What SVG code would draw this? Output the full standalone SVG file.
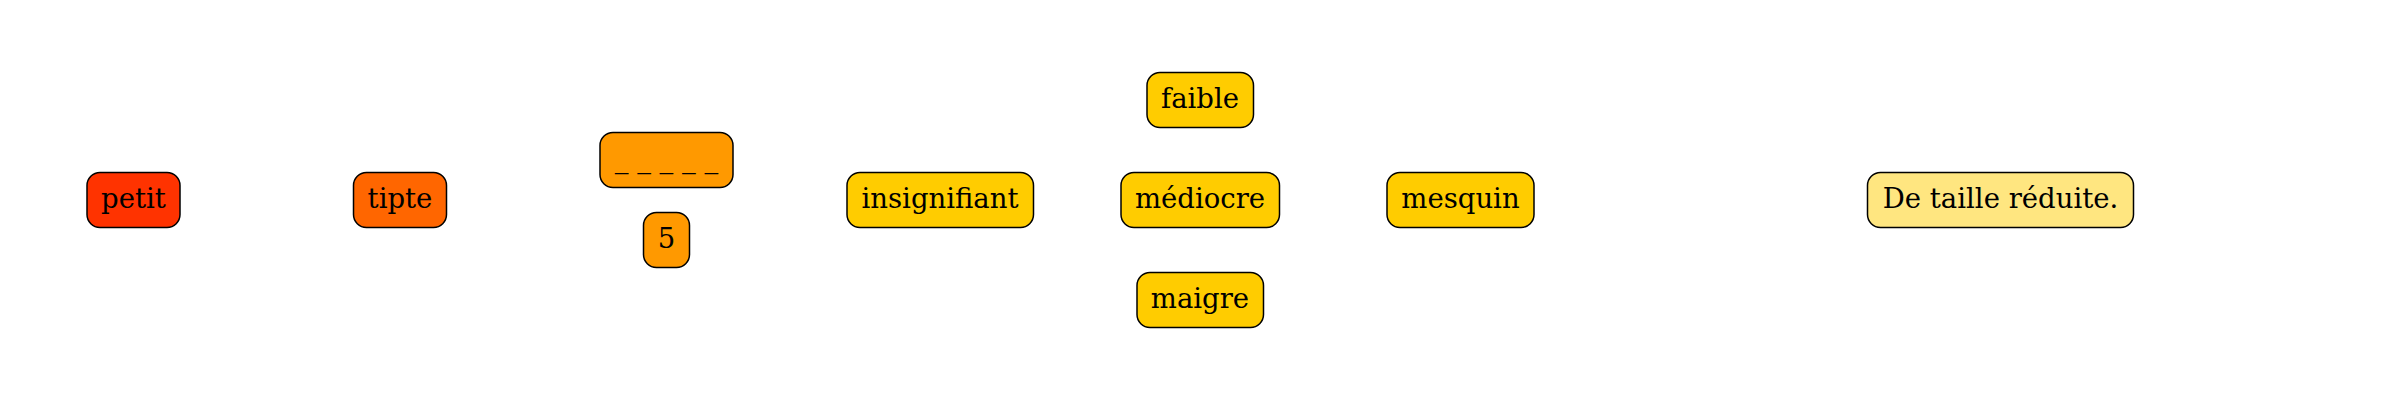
<svg xmlns="http://www.w3.org/2000/svg" width="2400" height="400" viewBox="0 0 2400 400">
<style>
.n rect{stroke:#000;stroke-width:1.5;rx:13;ry:13}
.n text{font-family:"DejaVu Serif",serif;font-size:27.5px;text-anchor:middle;fill:#000}
</style>
<rect width="2400" height="400" fill="#fff"/>
<g id="connectors"></g>
<g id="petit" class="n"><rect x="87" y="172.5" width="93" height="55" fill="#ff3300"/><text x="133.5" y="208">petit</text></g>
<g id="tipte" class="n"><rect x="353.5" y="172.5" width="93" height="55" fill="#ff6600"/><text x="400" y="208">tipte</text></g>
<g id="blank" class="n"><rect x="600" y="132.5" width="133" height="55" fill="#ff9900"/><text x="666.5" y="168">_ _ _ _ _</text></g>
<g id="five" class="n"><rect x="643.5" y="212.5" width="46" height="55" fill="#ff9900"/><text x="666.5" y="248">5</text></g>
<g id="insignifiant" class="n"><rect x="847" y="172.5" width="186.5" height="55" fill="#ffcc00"/><text x="940" y="208">insignifiant</text></g>
<g id="faible" class="n"><rect x="1147" y="72.5" width="106.5" height="55" fill="#ffcc00"/><text x="1200" y="108">faible</text></g>
<g id="mediocre" class="n"><rect x="1121" y="172.5" width="158.5" height="55" fill="#ffcc00"/><text x="1200" y="208">médiocre</text></g>
<g id="maigre" class="n"><rect x="1137" y="272.5" width="126.5" height="55" fill="#ffcc00"/><text x="1200" y="308">maigre</text></g>
<g id="mesquin" class="n"><rect x="1387" y="172.5" width="147" height="55" fill="#ffcc00"/><text x="1460.5" y="208">mesquin</text></g>
<g id="definition" class="n"><rect x="1867.5" y="172.5" width="266" height="55" fill="#ffe680"/><text x="2000.5" y="208">De taille réduite.</text></g>
</svg>
